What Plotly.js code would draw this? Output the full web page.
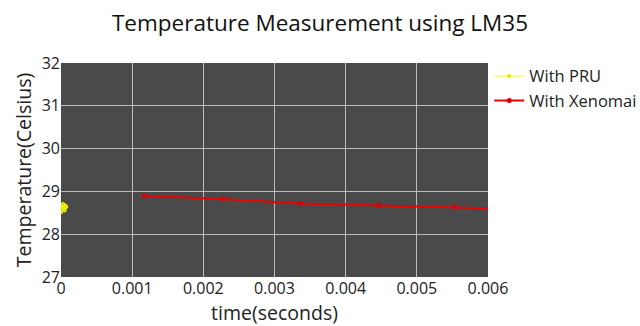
<!DOCTYPE html>
<html>
<head>
<meta charset="utf-8">
<script src="https://cdn.plot.ly/plotly-3.0.1.min.js"></script>
<style>html,body{margin:0;padding:0;background:#fff}#chart{width:640px;height:326px}</style>
</head>
<body>
<div id="chart"></div>
<script>
const pruTime = [0, 0.00001, 0.00002, 0.00003, 0.00004, 0.00005, 0.00006, 0.00007];
const pruTemp = [28.52, 28.6, 28.68, 28.7, 28.62, 28.56, 28.66, 28.64];
const xenoTime = [0.00117, 0.00228, 0.00337, 0.00446, 0.00554, 0.00663];
const xenoTemp = [28.9, 28.82, 28.72, 28.68, 28.64, 28.58];

const traces = [
  {x: pruTime, y: pruTemp, name: 'With PRU', mode: 'lines+markers', type: 'scatter',
   line: {color: 'yellow', width: 1},
   marker: {color: '#d4d400', size: 3.5, line: {color: 'yellow', width: 1}}},
  {x: xenoTime, y: xenoTemp, name: 'With Xenomai', mode: 'lines+markers', type: 'scatter',
   line: {color: '#ee0000', width: 2},
   marker: {color: '#dd0000', size: 5}}
];

const layout = {
  width: 640, height: 326,
  margin: {l: 61, r: 152, t: 63, b: 49, autoexpand: false},
  paper_bgcolor: '#ffffff',
  plot_bgcolor: '#4a4a4a',
  font: {family: '"Open Sans", sans-serif', color: '#222'},
  title: {text: 'Temperature Measurement using LM35', font: {size: 22.5, color: '#111'}, x: 0.5, xanchor: 'center', y: 0.93, yanchor: 'middle'},
  xaxis: {range: [0, 0.006], dtick: 0.001, gridcolor: '#bdbdbd', gridwidth: 1, zeroline: false, showline: false,
          tickfont: {size: 16}, title: {text: 'time(seconds)', font: {size: 19.5}, standoff: 10}},
  yaxis: {range: [27, 32], dtick: 1, gridcolor: '#bdbdbd', gridwidth: 1, zeroline: false, showline: false,
          tickfont: {size: 16}, title: {text: 'Temperature(Celsius)', font: {size: 19.5}, standoff: 4}},
  legend: {x: 1.003, y: 1.02, xanchor: 'left', yanchor: 'top', font: {size: 16.5}, bgcolor: 'rgba(0,0,0,0)'},
  showlegend: true
};

Plotly.newPlot('chart', traces, layout, {displayModeBar: false, staticPlot: true});
</script>
</body>
</html>
